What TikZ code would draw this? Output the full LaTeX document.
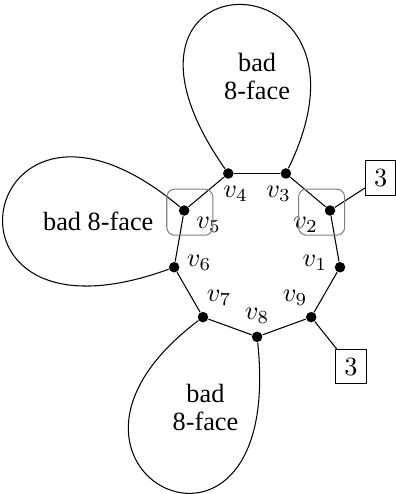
\documentclass[tikz,border=0pt]{standalone}
\usepackage{fontspec}
\setmainfont{Liberation Serif}
\usepackage{tikz}
\usetikzlibrary{positioning,calc}

\tikzset{
        vtx/.style={circle, fill=black, inner sep=0pt, minimum size=4pt},
        numbox/.style={draw, rectangle, inner sep=3.3pt},
        selbox/.style={draw=gray, rounded corners=3pt, minimum size=17.5pt, inner sep=0pt},
        facelabel/.style={align=center, font=\fontsize{10}{10.6}\selectfont}
}

\begin{document}
\begin{tikzpicture}[scale=0.75]
        \useasboundingbox (-4.58,-4.30) rectangle (2.46,4.50);
        % the 9-cycle, labels pointing inwards
        \foreach \i in {1,...,9} {
            \pgfmathsetmacro\ang{-50+40*\i}
            \pgfmathsetmacro\lang{130+40*\i}
            \pgfmathsetmacro\opp{310+40*\i}
            \node[vtx, label={[anchor=\opp, inner sep=2.5pt]\lang:$v_{\i}$}] (v\i) at (\ang:1.5) {};
        }
        \foreach \i [remember=\i as \j (initially 9)] in {1,...,9}
            \draw (v\j) -- (v\i);

        % the three bad faces
        \draw (v4) .. controls +(125:4.85) and +(64:4.45) .. (v3);
        \draw (v5) .. controls +(140:4.8) and +(200:4.9) .. (v6);
        \draw (v7) .. controls +(217:4.5) and +(276:4.9) .. (v8);
        \node[facelabel] (f43) at (0,3.14) {bad\\8-face};
        \node[facelabel] (f56) at (-2.83,0.55) {bad 8-face};
        \node[facelabel] (f78) at (-0.92,-2.76) {bad\\8-face};

        % degree-3 neighbours
        \node[numbox] (t2) at (2.2,1.33) {$3$};
        \node[numbox] (t9) at (1.67,-2.03) {$3$};
        \draw (v2) -- (t2);
        \draw (v9) -- (t9);

        \node[selbox] (s5) at ($(v5)+(0.1,-0.03)$) {};
        \node[selbox] (s2) at ($(v2)+(-0.15,-0.03)$) {};
\end{tikzpicture}
\end{document}
